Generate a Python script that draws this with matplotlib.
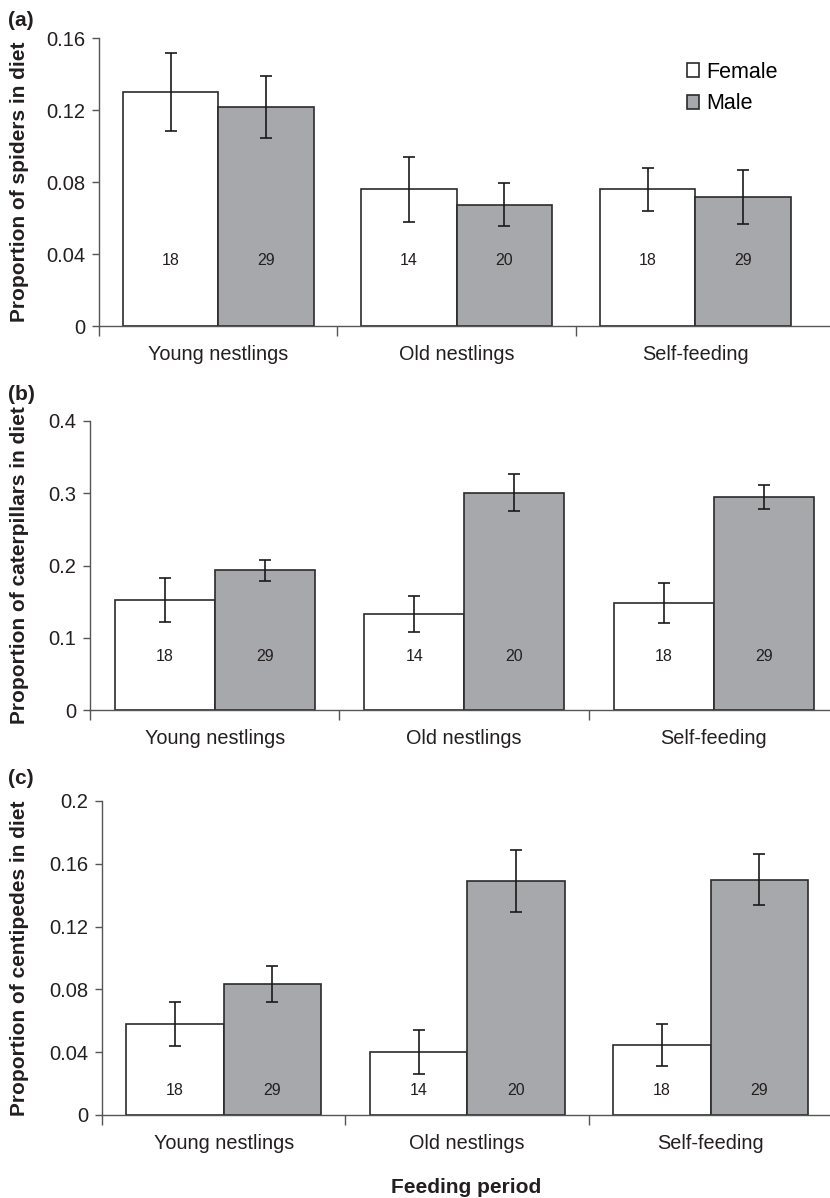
import matplotlib
matplotlib.use("Agg")
import matplotlib.pyplot as plt
import numpy as np

plt.rcParams['font.family'] = ['Liberation Sans', 'DejaVu Sans']

# data
periods = ["Young nestlings", "Old nestlings", "Self-feeding"]
n_female = [18, 14, 18]
n_male = [29, 20, 29]

spiders_f = [0.130, 0.076, 0.076]
spiders_f_err = [0.0214, 0.0181, 0.0119]
spiders_m = [0.1218, 0.0675, 0.0714]
spiders_m_err = [0.0172, 0.0121, 0.0150]

cater_f = [0.152, 0.1327, 0.1484]
cater_f_err = [0.0302, 0.0254, 0.0277]
cater_m = [0.1931, 0.3005, 0.2945]
cater_m_err = [0.0148, 0.0256, 0.0166]

centi_f = [0.0579, 0.0401, 0.0445]
centi_f_err = [0.0140, 0.0141, 0.0132]
centi_m = [0.0834, 0.1491, 0.1499]
centi_m_err = [0.0114, 0.0199, 0.0163]

W, H = 830, 1198
fig = plt.figure(figsize=(W / 100, H / 100), dpi=100)

male_col = '#a7a8ab'
edge_col = '#2b2b2b'
spine_col = '#555555'
txt_col = '#231f20'

# (label, ylabel, female, ferr, male, merr, yticks, ticklabels, n-label y, px box, xmax)
panels = [
    ("(a)", "Proportion of spiders in diet", spiders_f, spiders_f_err, spiders_m, spiders_m_err,
     [0, 0.04, 0.08, 0.12, 0.16], ["0", "0.04", "0.08", "0.12", "0.16"], 0.0362,
     (99, 38, 326), 2.565),
    ("(b)", "Proportion of caterpillars in diet", cater_f, cater_f_err, cater_m, cater_m_err,
     [0, 0.1, 0.2, 0.3, 0.4], ["0", "0.1", "0.2", "0.3", "0.4"], 0.0747,
     (90, 421, 710), 2.466),
    ("(c)", "Proportion of centipedes in diet", centi_f, centi_f_err, centi_m, centi_m_err,
     [0, 0.04, 0.08, 0.12, 0.16, 0.2], ["0", "0.04", "0.08", "0.12", "0.16", "0.2"], 0.0159,
     (102, 801, 1115), 2.49),
]
label_y = [20, 395, 778]

x = np.arange(len(periods))
bw = 0.4
for i, (lab, ylab, fv, fe, mv, me, yt, ytl, ny, box, xmax) in enumerate(panels):
    left, top, bottom = box
    ax = fig.add_axes([left / W, 1 - bottom / H, 1 - left / W, (bottom - top) / H])
    ebar = dict(ecolor='#1a1a1a', elinewidth=1.2, capsize=4, capthick=1.2)
    ax.bar(x - bw / 2, fv, bw, yerr=fe, color='white', edgecolor=edge_col,
           linewidth=1.2, error_kw=ebar, label='Female', zorder=2)
    ax.bar(x + bw / 2, mv, bw, yerr=me, color=male_col, edgecolor=edge_col,
           linewidth=1.2, error_kw=ebar, label='Male', zorder=2)
    for j in range(len(periods)):
        ax.text(x[j] - bw / 2, ny, str(n_female[j]), ha='center', va='center', fontsize=11.5, color=txt_col)
        ax.text(x[j] + bw / 2, ny, str(n_male[j]), ha='center', va='center', fontsize=11.5, color=txt_col)

    ax.set_xlim(-0.5, xmax)
    ax.set_ylim(0, yt[-1])
    ax.set_yticks(yt)
    ax.set_yticklabels(ytl, fontsize=14.5, color=txt_col)
    ax.set_xticks(x)
    ax.set_xticklabels(periods, fontsize=14.3, color=txt_col)
    ax.set_xticks([-0.5, 0.5, 1.5], minor=True)
    ax.tick_params(axis='x', which='major', length=0, pad=14)
    ax.tick_params(axis='x', which='minor', length=7, width=1, color=spine_col, direction='out')
    ax.tick_params(axis='y', length=5, width=1, color=spine_col, direction='out', pad=5)
    for s in ['top', 'right']:
        ax.spines[s].set_visible(False)
    for s in ['left', 'bottom']:
        ax.spines[s].set_color(spine_col)
        ax.spines[s].set_linewidth(1.0)

    ax.set_ylabel(ylab, fontsize=15, fontweight='bold', color=txt_col)
    ax.yaxis.set_label_coords((29 - left) / (W - left), 0.5)
    fig.text(8 / W, 1 - label_y[i] / H, lab, fontsize=15, fontweight='bold',
             ha='left', va='center', color=txt_col)

    if i == 0:
        ax.legend(loc='upper left', bbox_to_anchor=(0.789, 0.955), frameon=False, fontsize=15.5,
                  handlelength=0.6, handleheight=0.6, handletextpad=0.3, labelspacing=0.5,
                  borderpad=0)
    if i == 2:
        ax.set_xlabel("Feeding period", fontsize=15, fontweight='bold', color=txt_col, labelpad=18)

fig.savefig("out.png", dpi=100)
